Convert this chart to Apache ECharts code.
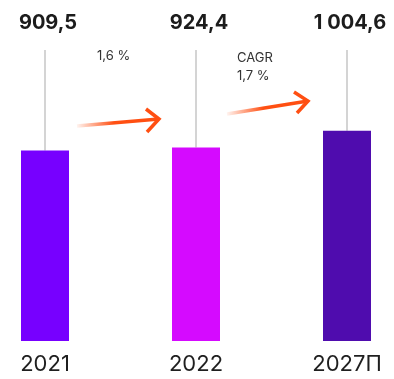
<!DOCTYPE html>
<html><head><meta charset="utf-8">
<script src="https://cdn.jsdelivr.net/npm/echarts@6/dist/echarts.min.js"></script>
<style>html,body{margin:0;padding:0;background:#fff}#c{width:394px;height:379px}</style>
</head><body><div id="c"></div>
<script>
// Market volume by year, with the forecast year marked "П"
const years = ['2021', '2022', '2027П'];
const volumes = [909.5, 924.4, 1004.6];
const barColors = ['#7700FF', '#D50AFF', '#4F0CAE'];
const growthNotes = ['1,6 %', 'CAGR\n1,7 %'];

const Y_MAX = 1390;
const FONT = 'Inter';

// 1004.6 -> "1 004,6"
function fmt(v) {
  const parts = v.toFixed(1).split('.');
  return parts[0].replace(/\B(?=(\d{3})+(?!\d))/g, ' ') + ',' + parts[1];
}

function arrow(x1, y1, x2, y2, a1, a2) {
  const orange = '#FF4F12';
  return [
    {
      type: 'line',
      shape: { x1, y1, x2, y2 },
      style: {
        lineWidth: 3.5,
        lineCap: 'butt',
        stroke: new echarts.graphic.LinearGradient(0, 0, 1, 0, [
          { offset: 0, color: 'rgba(255,79,18,0)' },
          { offset: 0.45, color: orange },
          { offset: 1, color: orange }
        ])
      }
    },
    {
      type: 'polyline',
      shape: { points: [a1, [x2, y2], a2] },
      style: { stroke: orange, lineWidth: 3.5, fill: null, lineJoin: 'miter' }
    }
  ];
}

const chart = echarts.init(document.getElementById('c'), null, { renderer: 'canvas' });

chart.setOption({
  animation: false,
  grid: { left: 45, right: 47, top: 50, bottom: 38 },
  xAxis: {
    type: 'category',
    data: years,
    boundaryGap: false,
    axisLine: { show: false },
    axisTick: { show: false },
    axisLabel: { color: '#1f1f1f', fontSize: 22, fontFamily: FONT, margin: 12 }
  },
  yAxis: {
    type: 'value', min: 0, max: Y_MAX,
    show: false, splitLine: { show: false }
  },
  series: [
    {
      type: 'custom',
      z: 1,
      data: volumes.map((v, i) => [i, v]),
      renderItem(params, api) {
        const i = api.value(0);
        const base = api.coord([i, api.value(1)]);
        const top = api.coord([i, Y_MAX]);
        return {
          type: 'group',
          children: [
            {
              type: 'line',
              shape: { x1: base[0], y1: base[1], x2: top[0], y2: top[1] },
              style: { stroke: '#c6c6c6', lineWidth: 1.5 }
            },
            {
              type: 'text',
              x: top[0] + 3, y: top[1] - 27,
              style: {
                text: fmt(api.value(1)), fill: '#1c1c1c',
                font: 'bold 20px ' + FONT, align: 'center', verticalAlign: 'middle'
              }
            }
          ]
        };
      }
    },
    {
      type: 'bar',
      z: 2,
      barWidth: 48,
      data: volumes.map((v, i) => ({ value: v, itemStyle: { color: barColors[i] } }))
    }
  ],
  graphic: [
    ...arrow(77, 126, 159, 119, [146, 109], [147, 132]),
    ...arrow(227, 114, 308, 101, [294, 92], [297, 113]),
    {
      type: 'text', left: 97, top: 50,
      style: { text: growthNotes[0], fill: '#333', font: '13px ' + FONT }
    },
    {
      type: 'text', left: 237, top: 49,
      style: { text: growthNotes[1], fill: '#333', font: '13px ' + FONT, lineHeight: 18 }
    }
  ]
});
</script>
</body></html>
